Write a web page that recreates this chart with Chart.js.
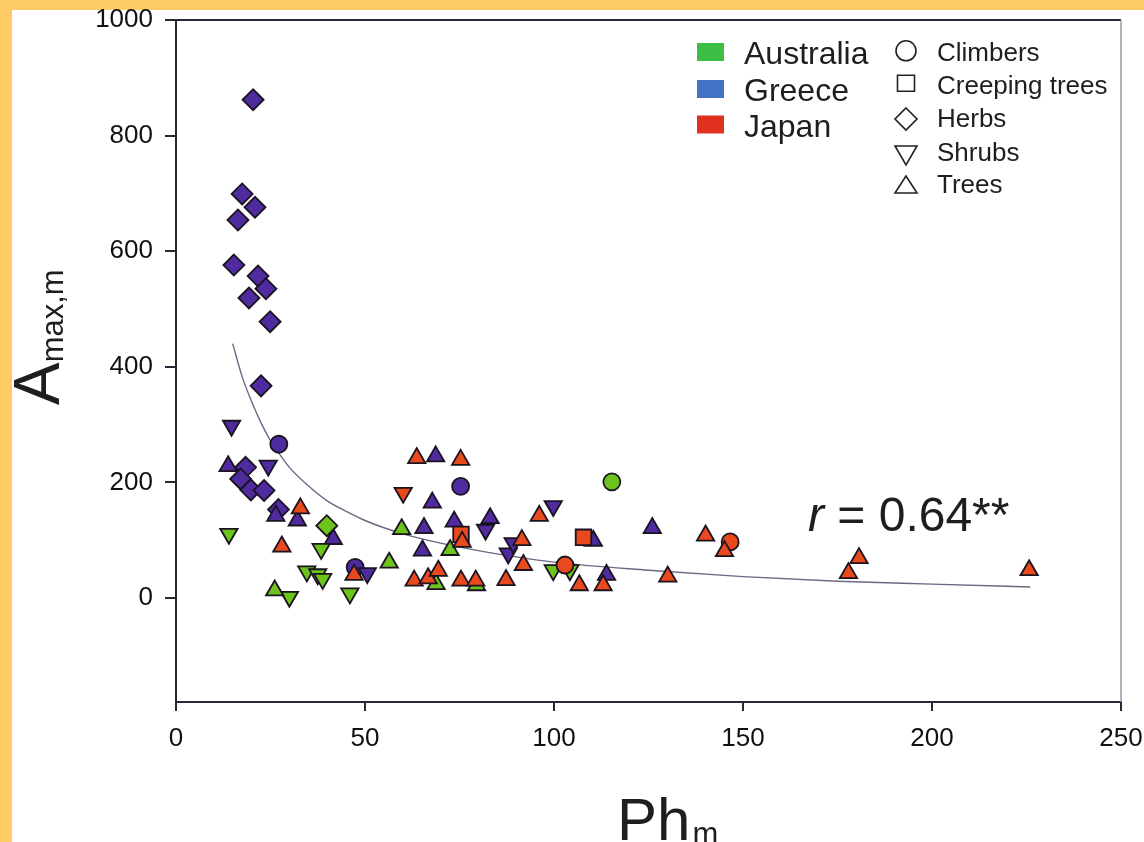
<!DOCTYPE html>
<html>
<head>
<meta charset="utf-8">
<script src="https://cdn.jsdelivr.net/npm/chart.js@4/dist/chart.umd.min.js"></script>
<style>
  html, body { margin: 0; padding: 0; }
  body { width: 1144px; height: 842px; background: #ffcb66; overflow: hidden; position: relative; }
  #hoja { position: absolute; left: 12px; top: 10px; right: 0; bottom: 0; background: #fff; }
  #grafico { position: absolute; left: 0; top: 0; }
</style>
</head>
<body>
<div id="hoja"></div>
<canvas id="grafico" width="1144" height="842"></canvas>
<script>
window.addEventListener("DOMContentLoaded", main);

const ID_GRAFICO = "grafico";
const FUENTE = "'Liberation Sans', Arial, sans-serif";

const paises = ["Australia", "Greece", "Japan"];
const habitos = ["Climbers", "Creeping trees", "Herbs", "Shrubs", "Trees"];
const ticksX = [0, 50, 100, 150, 200, 250];
const ticksY = [0, 200, 400, 600, 800, 1000];
const textoR = "0.64**";

// habito: 0 trepadoras, 1 arboles rastreros, 2 hierbas, 3 arbustos, 4 arboles
const phGrecia = [20.4, 17.5, 20.9, 16.4, 15.3, 21.7, 23.8, 19.3, 24.9, 22.5, 18.4, 17.1, 19.8, 23.3, 27.1,
                  27.2, 75.3, 47.4,
                  14.7, 24.4, 50.6, 81.9, 87.9, 89.2, 99.8,
                  13.8, 26.4, 32.1, 41.6, 67.8, 65.6, 73.6, 65.2, 68.7, 83.1, 110.4, 113.9, 126];
const amaxGrecia = [862, 699, 676, 654, 576, 557, 535, 519, 478, 367, 226, 206, 187, 186, 153,
                    266, 193, 53,
                    298, 229, 43, 118, 77, 95, 159,
                    228, 142, 134, 102, 165, 121, 132, 82, 245, 138, 99, 40, 121];
const habitoGrecia = [2, 2, 2, 2, 2, 2, 2, 2, 2, 2, 2, 2, 2, 2, 2,
                      0, 0, 0,
                      3, 3, 3, 3, 3, 3, 3,
                      4, 4, 4, 4, 4, 4, 4, 4, 4, 4, 4, 4, 4];

const phAustralia = [115.3, 39.9,
                     14.0, 38.4, 34.6, 37.5, 38.8, 30.0, 46.0, 99.8, 104.2,
                     26.1, 59.7, 72.5, 56.4, 68.8, 79.5];
const amaxAustralia = [201, 125,
                       111, 85, 46, 41, 33, 2, 8, 48, 48,
                       13, 119, 83, 61, 24, 22];
const habitoAustralia = [0, 2,
                         3, 3, 3, 3, 3, 3, 3, 3, 3,
                         4, 4, 4, 4, 4, 4];

const phJapon = [102.9, 146.6,
                 75.4, 107.8,
                 60.1,
                 32.9, 28.0, 47.1, 63.7, 75.3, 75.7, 63.0, 66.7, 69.4, 75.4, 79.3, 87.3, 91.5, 91.9,
                 96.1, 106.7, 113.0, 130.1, 140.1, 145.1, 177.9, 180.7, 225.7];
const amaxJapon = [57, 97,
                   110, 105,
                   182,
                   155, 89, 40, 242, 239, 97, 30, 34, 47, 30, 30, 31, 100, 57,
                   142, 22, 22, 37, 108, 81, 43, 69, 48];
const habitoJapon = [0, 0,
                     1, 1,
                     3,
                     4, 4, 4, 4, 4, 4, 4, 4, 4, 4, 4, 4, 4, 4,
                     4, 4, 4, 4, 4, 4, 4, 4, 4];

// curva de ajuste
const ajusteX = [15, 17.5, 20, 22.5, 25, 27.5, 30, 35, 40, 45, 50, 60, 70, 80, 100, 125, 150, 175, 200, 226];
const ajusteY = [440, 383, 340, 303, 272, 248, 226, 194, 168, 150, 134, 111, 95, 82, 62, 48, 37, 29, 24, 19];

const coloresPunto = ["#6cc31c", "#4f2b9f", "#e8491d"];
const coloresLeyenda = ["#3dbf45", "#4472c4", "#e0301e"];
const estilos = [
    {forma: "circle", radio: 8.5, giro: 0},
    {forma: "rect", radio: 11, giro: 0},
    {forma: "rectRot", radio: 10.5, giro: 0},
    {forma: "triangle", radio: 10, giro: 180},
    {forma: "triangle", radio: 10, giro: 0}
];

function serie(etiqueta, xs, ys, hab, color, orden){
    return {
        type: "scatter",
        label: etiqueta,
        data: xs.map((v, i) => ({x: v, y: ys[i]})),
        order: orden,
        backgroundColor: color,
        borderColor: "#1b1320",
        borderWidth: 1.8,
        pointStyle: c => estilos[hab[c.dataIndex]].forma,
        pointRadius: c => estilos[hab[c.dataIndex]].radio,
        rotation: c => estilos[hab[c.dataIndex]].giro
    };
}

// simbolos vacios de la leyenda de habitos
function simbolo(ctx, h, x, y){
    ctx.beginPath();
    if (h == 0) {
        ctx.arc(x, y, 10, 0, Math.PI * 2);
    } else if (h == 1) {
        ctx.rect(x - 8.5, y - 8, 17, 16);
    } else if (h == 2) {
        ctx.moveTo(x, y - 11); ctx.lineTo(x + 11, y); ctx.lineTo(x, y + 11); ctx.lineTo(x - 11, y); ctx.closePath();
    } else if (h == 3) {
        ctx.moveTo(x - 11, y - 9); ctx.lineTo(x + 11, y - 9); ctx.lineTo(x, y + 10); ctx.closePath();
    } else {
        ctx.moveTo(x - 11, y + 8); ctx.lineTo(x + 11, y + 8); ctx.lineTo(x, y - 9); ctx.closePath();
    }
    ctx.stroke();
}

// sin relleno extra alrededor del area del grafico
function sinRelleno(s){
    s.paddingTop = 0;
    s.paddingBottom = 0;
    s.paddingLeft = 0;
    s.paddingRight = 0;
}

const extras = {
    id: "extras",
    beforeDatasetsDraw(chart){
        const {ctx, chartArea: a} = chart;
        ctx.save();
        ctx.strokeStyle = "#2b2536";
        ctx.lineWidth = 2;
        ctx.beginPath(); ctx.moveTo(a.left, a.top); ctx.lineTo(a.right, a.top); ctx.stroke();
        ctx.strokeStyle = "#9c97ad";
        ctx.lineWidth = 1.5;
        ctx.beginPath(); ctx.moveTo(a.right, a.top); ctx.lineTo(a.right, a.bottom); ctx.stroke();
        ctx.restore();
    },
    afterDraw(chart){
        const ctx = chart.ctx;
        ctx.save();
        ctx.fillStyle = "#1e1e1e";
        ctx.textBaseline = "alphabetic";

        // leyenda de paises
        const filasPais = [64, 101, 136.5];
        paises.forEach((p, i) => {
            ctx.fillStyle = coloresLeyenda[i];
            ctx.fillRect(697, filasPais[i] - 21, 27, 18);
            ctx.fillStyle = "#1e1e1e";
            ctx.font = "32px " + FUENTE;
            ctx.fillText(p, 744, filasPais[i]);
        });

        // leyenda de habitos
        const filasHab = [60.6, 93.5, 126.8, 161.3, 193.3];
        const centrosHab = [50.8, 83.3, 119, 155, 185];
        ctx.strokeStyle = "#222";
        ctx.lineWidth = 1.6;
        habitos.forEach((h, i) => {
            simbolo(ctx, i, 906, centrosHab[i]);
            ctx.font = "26px " + FUENTE;
            ctx.fillText(h, 937, filasHab[i]);
        });

        // coeficiente de correlacion
        ctx.font = "italic 48px " + FUENTE;
        ctx.fillText("r", 808, 531);
        let w = ctx.measureText("r").width;
        ctx.font = "48px " + FUENTE;
        ctx.fillText(" = " + textoR, 808 + w, 531);

        // titulo eje y
        ctx.save();
        ctx.translate(59, 405);
        ctx.rotate(-Math.PI / 2);
        ctx.font = "64px " + FUENTE;
        ctx.fillText("A", 0, 0);
        w = ctx.measureText("A").width;
        ctx.font = "31px " + FUENTE;
        ctx.fillText("max,m", w, 4);
        ctx.restore();

        // titulo eje x
        ctx.font = "60px " + FUENTE;
        ctx.fillText("Ph", 617, 840);
        w = ctx.measureText("Ph").width;
        ctx.font = "31px " + FUENTE;
        ctx.fillText("m", 617 + w + 2, 844);

        ctx.restore();
    }
};

function main(){

    let ctx = document.getElementById(ID_GRAFICO)?.getContext("2d");
    if(!ctx) return;

    const ejeColor = "#2b2536";

    let chart = new Chart(ctx, {
        data: {
            datasets: [
                {
                    type: "line",
                    label: "ajuste",
                    data: ajusteX.map((v, i) => ({x: v, y: ajusteY[i]})),
                    order: 10,
                    borderColor: "#6e6783",
                    borderWidth: 1.4,
                    pointRadius: 0,
                    cubicInterpolationMode: "monotone",
                    fill: false
                },
                serie(paises[1], phGrecia, amaxGrecia, habitoGrecia, coloresPunto[1], 3),
                serie(paises[0], phAustralia, amaxAustralia, habitoAustralia, coloresPunto[0], 2),
                serie(paises[2], phJapon, amaxJapon, habitoJapon, coloresPunto[2], 1)
            ]
        },
        options: {
            responsive: false,
            animation: false,
            events: [],
            layout: {padding: {left: 0, top: 20, right: 23, bottom: 0}},
            plugins: {legend: {display: false}, tooltip: {enabled: false}},
            scales: {
                x: {
                    type: "linear",
                    min: 0,
                    max: 250,
                    afterBuildTicks: s => { s.ticks = ticksX.map(v => ({value: v})); },
                    afterFit: s => { s.height = 140; sinRelleno(s); },
                    border: {display: true, color: ejeColor, width: 2},
                    grid: {drawOnChartArea: false, drawTicks: true, tickLength: 9, color: ejeColor, lineWidth: 2},
                    ticks: {color: "#111", padding: 12, font: {family: FUENTE, size: 26}, maxRotation: 0,
                            callback: v => String(v)}
                },
                y: {
                    type: "linear",
                    min: -180,
                    max: 1000,
                    afterBuildTicks: s => { s.ticks = ticksY.map(v => ({value: v})); },
                    afterFit: s => { s.width = 176; sinRelleno(s); },
                    border: {display: true, color: ejeColor, width: 2},
                    grid: {drawOnChartArea: false, drawTicks: true, tickLength: 11, color: ejeColor, lineWidth: 2},
                    ticks: {color: "#111", padding: 12, font: {family: FUENTE, size: 26},
                            callback: v => String(v)}
                }
            }
        },
        plugins: [extras]
    });

}
</script>
</body>
</html>
